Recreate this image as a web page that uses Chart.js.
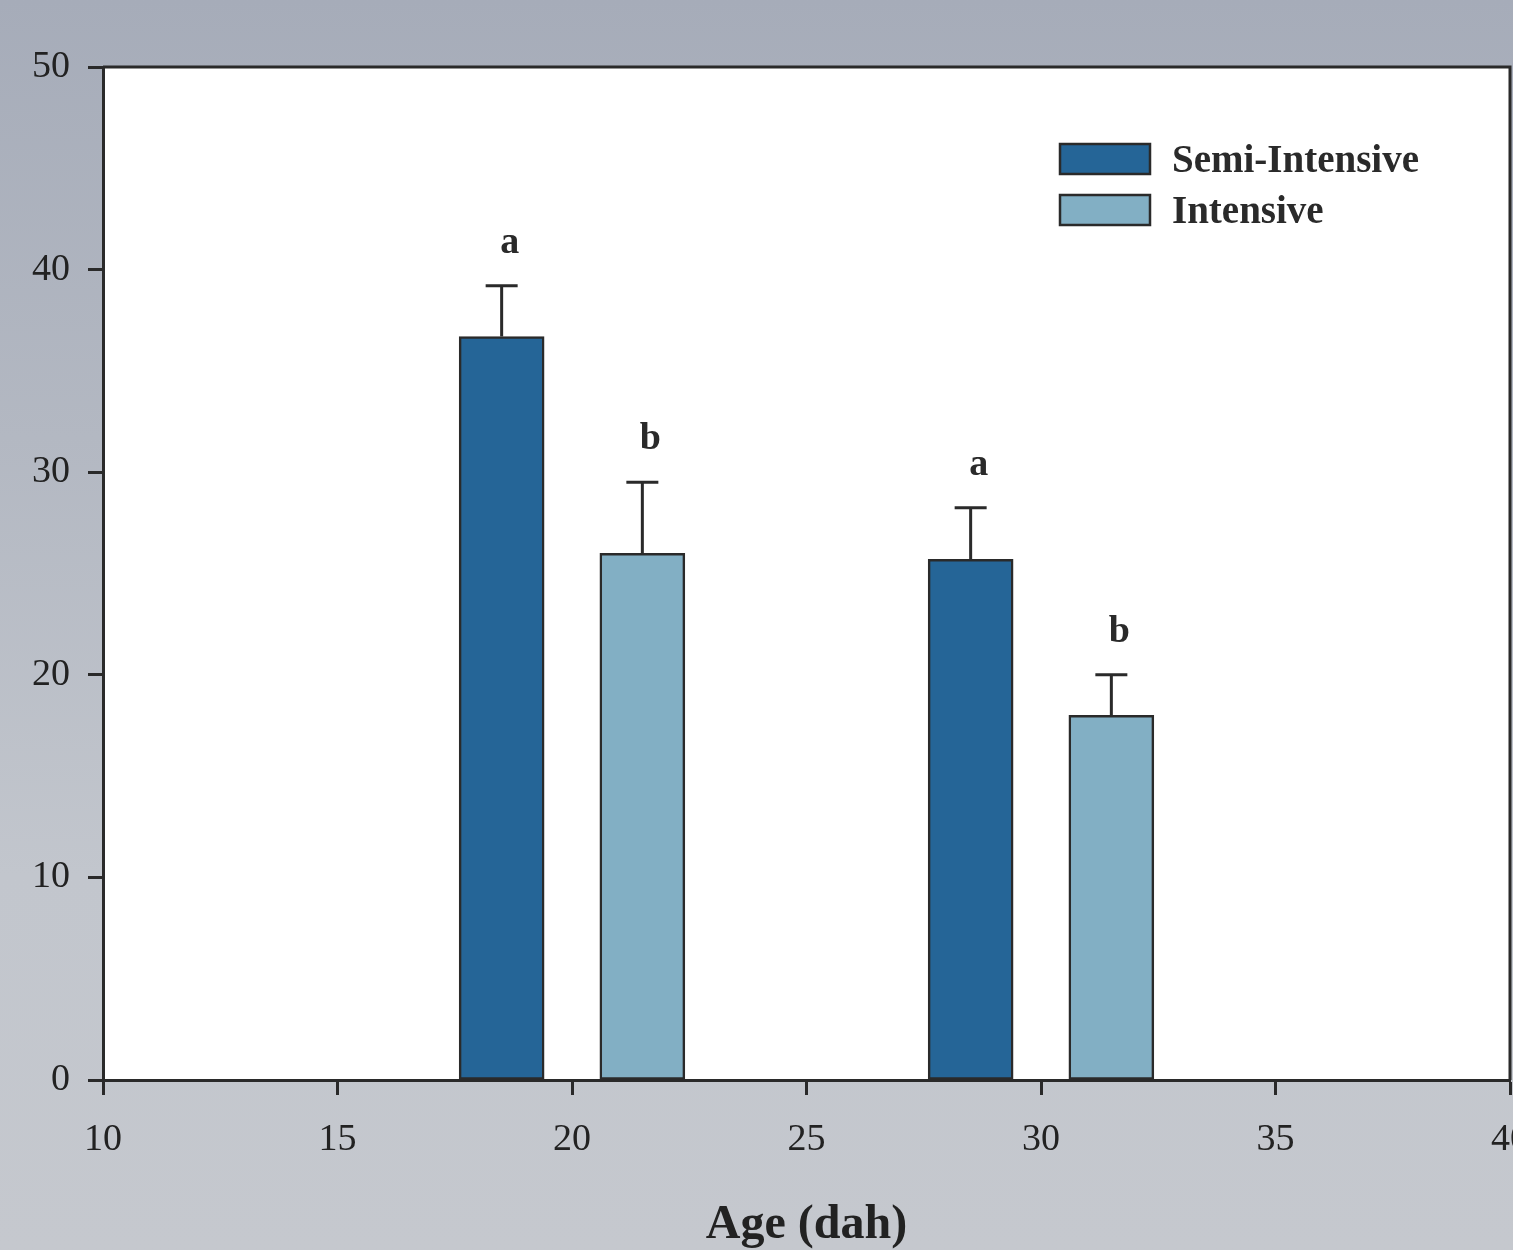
<!DOCTYPE html>
<html>
<head>
<meta charset="utf-8">
<script src="https://cdn.jsdelivr.net/npm/chart.js@4/dist/chart.umd.min.js"></script>
<style>
  html, body { margin: 0; padding: 0; overflow: hidden; }
  body {
    width: 1513px; height: 1250px;
    background: linear-gradient(180deg, #a6acb9 0%, #b3b8c2 35%, #c2c6cd 70%, #c5c8ce 100%);
  }
  canvas { position: absolute; left: 0; top: 0; }
</style>
</head>
<body>
<canvas id="myChart" width="1600" height="1254"></canvas>
<script>
// --- DONNÉES ---
const semiAges = [18.5, 28.5];
const semiValues = [36.7, 25.7];
const semiErr = [2.5, 2.55];
const semiLetters = ['a', 'a'];

const intAges = [21.5, 31.5];
const intValues = [26.0, 18.0];
const intErr = [3.5, 2.0];
const intLetters = ['b', 'b'];

const xTicks = [10, 15, 20, 25, 30, 35, 40];
const yTicks = [0, 10, 20, 30, 40, 50];

const INK = '#2a2a2a';
const SERIF = '"Liberation Serif", "Times New Roman", serif';

// --- PLUGINS ---
const plotBox = {
    id: 'plotBox',
    beforeDraw(chart) {
        const { ctx, chartArea: a } = chart;
        ctx.save();
        ctx.fillStyle = '#ffffff';
        ctx.fillRect(a.left, a.top, a.right - a.left, a.bottom - a.top);
        ctx.restore();
    },
    afterDraw(chart) {
        const { ctx, chartArea: a } = chart;
        ctx.save();
        ctx.strokeStyle = INK;
        ctx.lineWidth = 3;
        ctx.beginPath();
        ctx.moveTo(a.left, a.top);
        ctx.lineTo(a.right, a.top);
        ctx.lineTo(a.right, a.bottom);
        ctx.stroke();
        ctx.restore();
    }
};

const errorBars = {
    id: 'errorBars',
    afterDatasetsDraw(chart) {
        const { ctx } = chart;
        const x = chart.scales.x, y = chart.scales.y;
        const sets = [[semiAges, semiValues, semiErr, semiLetters], [intAges, intValues, intErr, intLetters]];
        ctx.save();
        ctx.strokeStyle = INK;
        ctx.fillStyle = INK;
        ctx.lineWidth = 3;
        ctx.font = 'bold 38px ' + SERIF;
        ctx.textAlign = 'center';
        ctx.textBaseline = 'alphabetic';
        sets.forEach(([ages, vals, errs, letters]) => {
            ages.forEach((age, k) => {
                const px = x.getPixelForValue(age);
                const top = y.getPixelForValue(vals[k]);
                const hi = y.getPixelForValue(vals[k] + errs[k]);
                ctx.beginPath();
                ctx.moveTo(px, top);
                ctx.lineTo(px, hi);
                ctx.moveTo(px - 16, hi);
                ctx.lineTo(px + 16, hi);
                ctx.stroke();
                ctx.fillText(letters[k], px + 8, hi - 33);
            });
        });
        ctx.restore();
    }
};

const legendBox = {
    id: 'legendBox',
    afterDraw(chart) {
        const { ctx } = chart;
        ctx.save();
        ctx.font = 'bold 39px ' + SERIF;
        ctx.textBaseline = 'middle';
        ctx.textAlign = 'left';
        chart.data.datasets.forEach((ds, k) => {
            const top = 144 + k * 51;
            ctx.fillStyle = ds.backgroundColor;
            ctx.fillRect(1060, top, 90, 30);
            ctx.strokeStyle = INK;
            ctx.lineWidth = 2.5;
            ctx.strokeRect(1060, top, 90, 30);
            ctx.fillStyle = INK;
            ctx.fillText(ds.label, 1172, top + 18);
        });
        ctx.restore();
    }
};

// --- CHART ---
const ctx = document.getElementById('myChart').getContext('2d');
new Chart(ctx, {
    type: 'bar',
    data: {
        datasets: [{
            label: 'Semi-Intensive',
            data: semiAges.map((a, k) => ({ x: a, y: semiValues[k] })),
            backgroundColor: '#256597',
            borderColor: INK,
            borderWidth: 2.5,
            borderSkipped: false,
            barThickness: 85,
            grouped: false
        }, {
            label: 'Intensive',
            data: intAges.map((a, k) => ({ x: a, y: intValues[k] })),
            backgroundColor: '#82afc4',
            borderColor: INK,
            borderWidth: 2.5,
            borderSkipped: false,
            barThickness: 85,
            grouped: false
        }]
    },
    options: {
        responsive: false,
        animation: false,
        layout: { padding: { left: 0, top: 67, right: 90, bottom: 0 } },
        plugins: { legend: { display: false }, tooltip: { enabled: false } },
        scales: {
            x: {
                type: 'linear',
                min: 10, max: 40,
                offset: false,
                afterBuildTicks: s => { s.ticks = xTicks.map(v => ({ value: v })); },
                afterFit: s => { s.height = 174; },
                grid: { offset: false, drawOnChartArea: false, drawTicks: true, tickLength: 15, tickWidth: 3, tickColor: INK },
                border: { display: true, width: 3, color: INK },
                ticks: { color: '#222', font: { family: SERIF, size: 38 }, padding: 22, maxRotation: 0 },
                title: { display: true, text: 'Age (dah)', color: '#222', font: { family: SERIF, size: 48, weight: 'bold' }, padding: { top: 0, bottom: 0 } }
            },
            y: {
                min: 0, max: 50,
                afterBuildTicks: s => { s.ticks = yTicks.map(v => ({ value: v })); },
                afterFit: s => { s.width = 103; },
                grid: { offset: false, drawOnChartArea: false, drawTicks: true, tickLength: 15, tickWidth: 3, tickColor: INK },
                border: { display: true, width: 3, color: INK },
                ticks: { color: '#222', font: { family: SERIF, size: 38 }, padding: 18 }
            }
        }
    },
    plugins: [plotBox, errorBars, legendBox]
});
</script>
</body>
</html>
